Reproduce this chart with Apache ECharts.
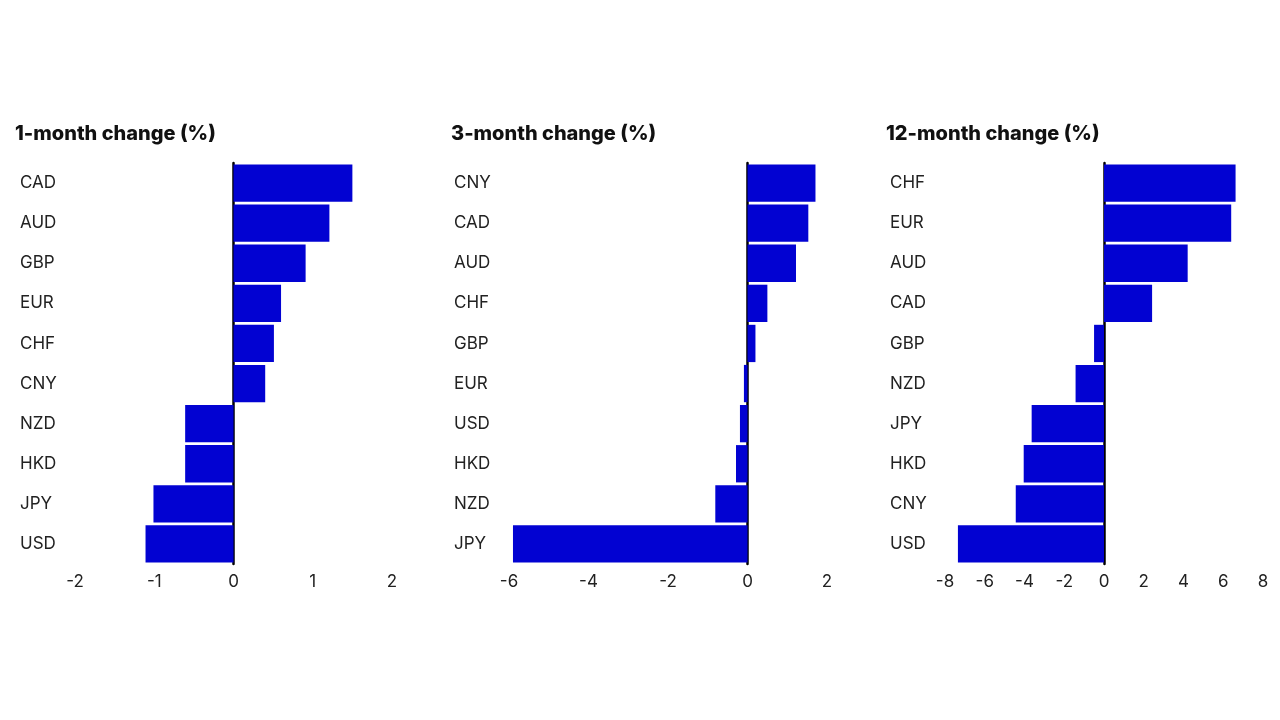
<!DOCTYPE html>
<html>
<head>
<meta charset="utf-8">
<script src="https://cdn.jsdelivr.net/npm/echarts@6/dist/echarts.min.js"></script>
<style>
  html, body { margin: 0; padding: 0; background: #fff; }
  #chartmain { width: 1280px; height: 720px; }
</style>
</head>
<body>
<div id="chartmain"></div>
<script>
// 1-month change
var cats1 = ['CAD', 'AUD', 'GBP', 'EUR', 'CHF', 'CNY', 'NZD', 'HKD', 'JPY', 'USD'];
var vals1 = [1.50, 1.21, 0.91, 0.60, 0.51, 0.40, -0.61, -0.61, -1.01, -1.11];
// 3-month change
var cats3 = ['CNY', 'CAD', 'AUD', 'CHF', 'GBP', 'EUR', 'USD', 'HKD', 'NZD', 'JPY'];
var vals3 = [1.71, 1.53, 1.22, 0.50, 0.20, -0.09, -0.19, -0.29, -0.81, -5.9];
// 12-month change
var cats12 = ['CHF', 'EUR', 'AUD', 'CAD', 'GBP', 'NZD', 'JPY', 'HKD', 'CNY', 'USD'];
var vals12 = [6.62, 6.40, 4.21, 2.42, -0.50, -1.43, -3.64, -4.04, -4.44, -7.35];

var titles = ['1-month change (%)', '3-month change (%)', '12-month change (%)'];
var ranges = [[-2, 2, 1], [-6, 2, 2], [-8, 8, 2]];
var gridLeft = [75, 509, 945];
var gridRight = [392, 827, 1263];
var titleLeft = [15, 451, 886];

var allCats = [cats1, cats3, cats12];
var allVals = [vals1, vals3, vals12];
var font = 'Inter, "Noto Sans", sans-serif';

var option = {
    backgroundColor: '#fff',
    animation: false,
    title: [],
    grid: [],
    xAxis: [],
    yAxis: [],
    series: []
};

for (var i = 0; i < 3; i++) {
    option.title.push({
        text: titles[i],
        left: titleLeft[i],
        top: 124,
        padding: 0,
        textStyle: { fontFamily: font, fontSize: 20, fontWeight: 800, color: '#111' }
    });
    option.grid.push({
        left: gridLeft[i],
        width: gridRight[i] - gridLeft[i],
        top: 163,
        height: 401
    });
    option.xAxis.push({
        type: 'value',
        gridIndex: i,
        min: ranges[i][0],
        max: ranges[i][1],
        interval: ranges[i][2],
        axisLine: { show: false },
        axisTick: { show: false },
        splitLine: { show: false },
        axisLabel: { fontFamily: font, fontSize: 17, color: '#222', margin: 9 }
    });
    option.yAxis.push({
        type: 'category',
        gridIndex: i,
        data: allCats[i],
        inverse: true,
        axisLine: { show: true, onZero: true, lineStyle: { color: '#000', width: 2.5 } },
        axisTick: { show: false },
        axisLabel: {
            fontFamily: font, fontSize: 17, color: '#222',
            align: 'left', margin: 55
        }
    });
    option.series.push({
        type: 'bar',
        xAxisIndex: i,
        yAxisIndex: i,
        data: allVals[i],
        barWidth: '93%',
        itemStyle: { color: '#0202D2' }
    });
}

var myChart = echarts.init(document.getElementById('chartmain'));
myChart.setOption(option);
</script>
</body>
</html>
